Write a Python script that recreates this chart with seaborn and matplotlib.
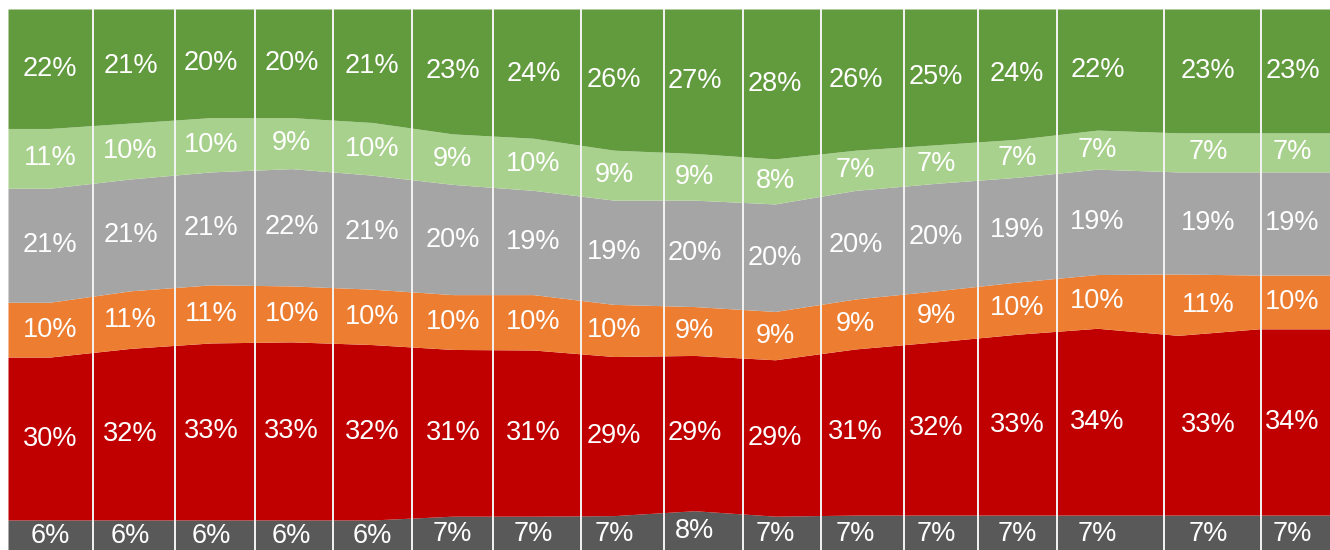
import numpy as np
import pandas as pd
import matplotlib
matplotlib.use("Agg")
import matplotlib.pyplot as plt
import seaborn as sns

# ---- data (percent shares per period, bottom -> top) ----
periods = list(range(1, 17))
dark_grey = [5.9, 5.9, 5.9, 5.9, 5.9, 6.6, 6.6, 6.7, 7.6, 6.6, 6.8, 6.8, 6.8, 6.8, 6.8, 6.8]
red = [30.0, 31.6, 32.6, 32.8, 32.3, 30.7, 30.6, 29.3, 28.6, 28.8, 30.6, 31.9, 33.3, 34.4, 33.1, 34.3]
orange = [10.1, 10.6, 10.7, 10.3, 10.2, 10.1, 10.2, 9.6, 9.0, 8.9, 9.2, 9.4, 9.6, 9.9, 11.3, 9.9]
grey = [21.0, 20.6, 20.8, 21.6, 21.0, 20.3, 19.2, 19.2, 19.6, 19.8, 20.0, 19.8, 19.3, 19.4, 18.8, 19.0]
light_green = [11.0, 10.3, 10.0, 9.4, 9.7, 9.3, 9.6, 9.2, 8.6, 8.3, 7.4, 7.1, 7.0, 7.2, 7.2, 7.2]
dark_green = [22.0, 21.0, 20.0, 20.0, 20.9, 23.0, 23.8, 26.0, 26.6, 27.6, 26.0, 25.0, 24.0, 22.3, 22.8, 22.8]

series_names = ["dark_grey", "red", "orange", "grey", "light_green", "dark_green"]
colors = ["#595959", "#C00000", "#ED7D31", "#A5A5A5", "#A9D18E", "#629A3E"]

# ---- layout constants ----
pad_left, pad_right = 0.52, 0.886
label_shift = [0.0] * 14 + [0.37, 0.42]
sep_offset = [0.04, 0.05, 0.05, 0.01, -0.01, 0.0, 0.09, 0.12, 0.10, 0.07, 0.10, 0.02, 0.0, 0.14, 0.14]

sns.set_theme(style="white")
plt.rcParams["font.family"] = ["Liberation Sans", "DejaVu Sans"]

df = pd.DataFrame(
    {"dark_grey": dark_grey, "red": red, "orange": orange, "grey": grey,
     "light_green": light_green, "dark_green": dark_green},
    index=periods,
)[series_names]
shares = df.div(df.sum(axis=1), axis=0) * 100

fig = plt.figure(figsize=(13.3, 5.5), dpi=100)
ax = fig.add_axes([8 / 1330, -2 / 550, 1322 / 1330, 543 / 550])

x = np.arange(len(periods), dtype=float)
xe = np.concatenate([[x[0] - pad_left], x, [x[-1] + pad_right]])
ye = [np.concatenate([[s[0]], s, [s[-1]]]) for s in shares.T.values]
ax.stackplot(xe, ye, colors=sns.color_palette(colors), lw=0, antialiased=True)
ax.set_xlim(xe[0], xe[-1])
ax.set_ylim(0, 100)
ax.axis("off")

lx = x + np.array(label_shift)
bottom = np.zeros(len(periods))
for name in series_names:
    vals = shares[name].values
    for xi, b, v in zip(lx, bottom, vals):
        ax.text(xi, b + v / 2, f"{int(round(v))}%", ha="center", va="center",
                color="white", fontsize=19.5)
    bottom += vals

mids = (lx[:-1] + lx[1:]) / 2 + np.array(sep_offset)
ax.vlines(mids, 0, 100, color="#F4F4F4", lw=1.4)

fig.savefig("out.png", dpi=100)
